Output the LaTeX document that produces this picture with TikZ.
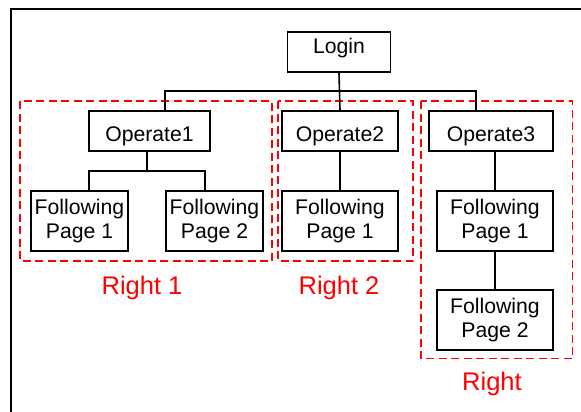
\documentclass[tikz,border=0pt]{standalone}
\usepackage{fontspec}
\setmainfont{Liberation Sans}
\begin{document}
\begin{tikzpicture}[x=1pt,y=-1pt,
  box/.style={draw,line width=1.6pt,inner sep=0pt,align=center,font=\fontsize{21.2}{24.8}\selectfont},
  conn/.style={line width=1.6pt},
  grp/.style={draw=red,line width=1.8pt,dash pattern=on 8pt off 4.5pt},
  lbl/.style={text=red,font=\fontsize{25.5}{30}\selectfont,inner sep=0pt}]
\useasboundingbox (0,0) rectangle (581,412);
\draw[line width=1.6pt] (11,415) -- (11,9) -- (585,9);
% groups
\draw[grp] (20,101) rectangle (272,261);
\draw[grp] (278,101) rectangle (413,261);
\draw[grp] (421,101) rectangle (572.5,358.5);
% nodes
\node[box,minimum width=103pt,minimum height=40pt,text height=15pt,text depth=12pt] (login) at (339,52) {Login};
\node[box,minimum width=121pt,minimum height=40pt,text height=26pt,text depth=4.4pt] (op1) at (149.5,131) {Operate1};
\node[box,minimum width=116pt,minimum height=40pt,text height=26pt,text depth=4.4pt] (op2) at (340,131) {Operate2};
\node[box,minimum width=124pt,minimum height=40pt,text height=26pt,text depth=4.4pt] (op3) at (491,131) {Operate3};
\node[box,minimum width=97pt,minimum height=60pt] (fa1) at (79.5,221) {Following\\Page 1};
\node[box,minimum width=97pt,minimum height=60pt] (fa2) at (214.5,221) {Following\\Page 2};
\node[box,minimum width=116pt,minimum height=60pt] (fb1) at (340,221) {Following\\Page 1};
\node[box,minimum width=116pt,minimum height=60pt] (fc1) at (495,221) {Following\\Page 1};
\node[box,minimum width=116pt,minimum height=60pt] (fc2) at (495,320) {Following\\Page 2};
% labels
\node[lbl] (r1) at (142,288) {Right 1};
\node[lbl] (r2) at (339,288) {Right 2};
\node[lbl] (r3) at (492,384) {Right};
% connectors
\coordinate (busL) at (165,91);
\coordinate (busR) at (476,91);
\coordinate (subL) at (89,171);
\coordinate (subR) at (205,171);
\coordinate (subM) at (147,171);
\draw[conn] (login.south) -- (op2.north);
\draw[conn] (op1.north -| busL) -- (busL) -- (busR) -- (op3.north -| busR);
\draw[conn] (op1.south -| subM) -- (subM);
\draw[conn] (fa1.north -| subL) -- (subL) -- (subR) -- (fa2.north -| subR);
\draw[conn] (op2.south) -- (fb1.north);
\draw[conn] (op3.south -| fc1) -- (fc1.north);
\draw[conn] (fc1.south) -- (fc2.north);
\end{tikzpicture}
\end{document}
